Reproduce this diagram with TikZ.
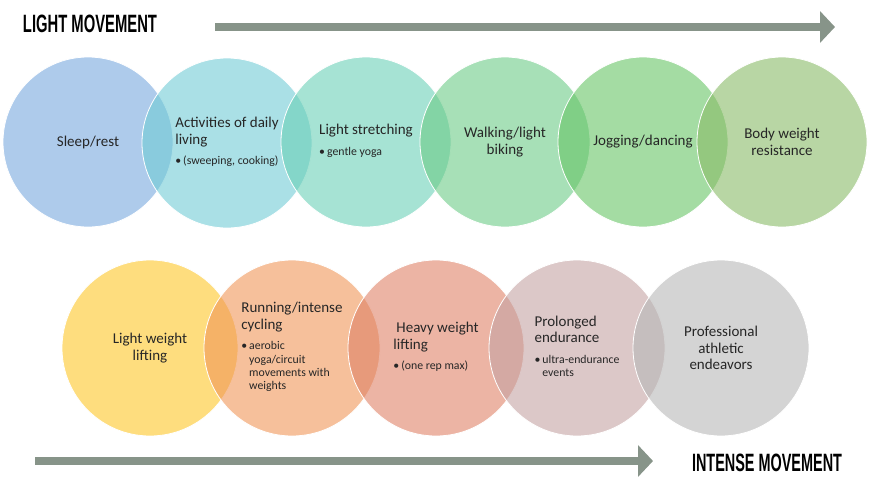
\documentclass[tikz,border=0pt]{standalone}
\usepackage{fontspec}
\usepackage{graphicx}
\setmainfont{Carlito}
\newfontfamily\bannerfont{Liberation Sans}
\usetikzlibrary{arrows.meta}

\definecolor{arrowgray}{RGB}{135,148,137}
\definecolor{textgray}{RGB}{38,38,38}
% base colours, shown at 60% over white
\definecolor{sleepc}{RGB}{120,168,222}
\definecolor{dailyc}{RGB}{113,203,213}
\definecolor{stretchc}{RGB}{107,208,183}
\definecolor{walkc}{RGB}{108,203,135}
\definecolor{jogc}{RGB}{103,197,102}
\definecolor{bodyc}{RGB}{137,187,103}
\definecolor{liftc}{RGB}{253,198,40}
\definecolor{runc}{RGB}{240,150,88}
\definecolor{heavyc}{RGB}{223,130,103}
\definecolor{prolongc}{RGB}{197,163,163}
\definecolor{proc}{RGB}{183,183,183}

\newcommand{\mainsize}{\fontsize{15}{16.5}\selectfont}
\newcommand{\bullitem}[1]{{\fontsize{11.8}{13.2}\selectfont\textbullet\,\begin{tabular}[t]{@{}l@{}}#1\end{tabular}}}
\newcommand{\banner}[2]{\resizebox{#1}{17.5pt}{\bannerfont\bfseries #2}}

\begin{document}
\begin{tikzpicture}[x=1pt, y=-1pt,
    bubble/.style={circle, minimum size=170pt, inner sep=0pt, draw=white, line width=0.8pt,
        fill opacity=0.6, text opacity=1, text=textgray, font=\mainsize},
    big bubble/.style={bubble, minimum size=176pt},
    flow/.style={arrowgray, line width=8pt, -{Triangle[length=15pt, width=31pt]}}]
    \useasboundingbox (0, 0) rectangle (873, 482);

    % light movement row
    \node[bubble, fill=sleepc, align=center] (sleep) at (88, 142) {Sleep/rest};
    \node[bubble, fill=dailyc, align=left] (daily) at (227, 143)
        {Activities of daily\\ living\\[4pt] \bullitem{(sweeping, cooking)}};
    \node[bubble, fill=stretchc, align=left] (stretch) at (366, 142)
        {Light stretching\\[4pt] \bullitem{gentle yoga}};
    \node[bubble, fill=walkc, align=center] (walk) at (505, 142) {Walking/light\\ biking};
    \node[bubble, fill=jogc, align=center] (jog) at (643, 142) {Jogging/dancing};
    \node[bubble, fill=bodyc, align=center] (body) at (782, 142) {Body weight\\ resistance};

    % intense movement row
    \node[big bubble, fill=liftc, align=center] (lift) at (150, 348) {Light weight\\ lifting};
    \node[big bubble, fill=runc, align=left] (run) at (292, 348)
        {Running/intense\\ cycling\\[4pt] \bullitem{aerobic\\ yoga/circuit\\ movements with\\ weights}};
    \node[big bubble, fill=heavyc, align=left] (heavy) at (436, 348)
        {\hspace*{3pt}Heavy weight\\ lifting\\[4pt] \bullitem{(one rep max)}};
    \node[big bubble, fill=prolongc, align=left] (prolong) at (577, 348)
        {Prolonged\\ endurance\\[4pt] \bullitem{ultra-endurance\\ events}};
    \node[big bubble, fill=proc, align=center] (pro) at (721, 348)
        {Professional\\ athletic\\ endeavors};

    % banners and arrows
    \node[inner sep=0pt] (light) at (90, 24) {\banner{134pt}{LIGHT MOVEMENT}};
    \node[inner sep=0pt] (intense) at (767, 462.5) {\banner{150pt}{INTENSE MOVEMENT}};
    \coordinate (top start) at (215, 27);
    \coordinate (top end) at (835, 27);
    \coordinate (bottom start) at (35, 461);
    \coordinate (bottom end) at (653, 461);
    \draw[flow] (top start) -- (top end);
    \draw[flow] (bottom start) -- (bottom end);
\end{tikzpicture}
\end{document}
